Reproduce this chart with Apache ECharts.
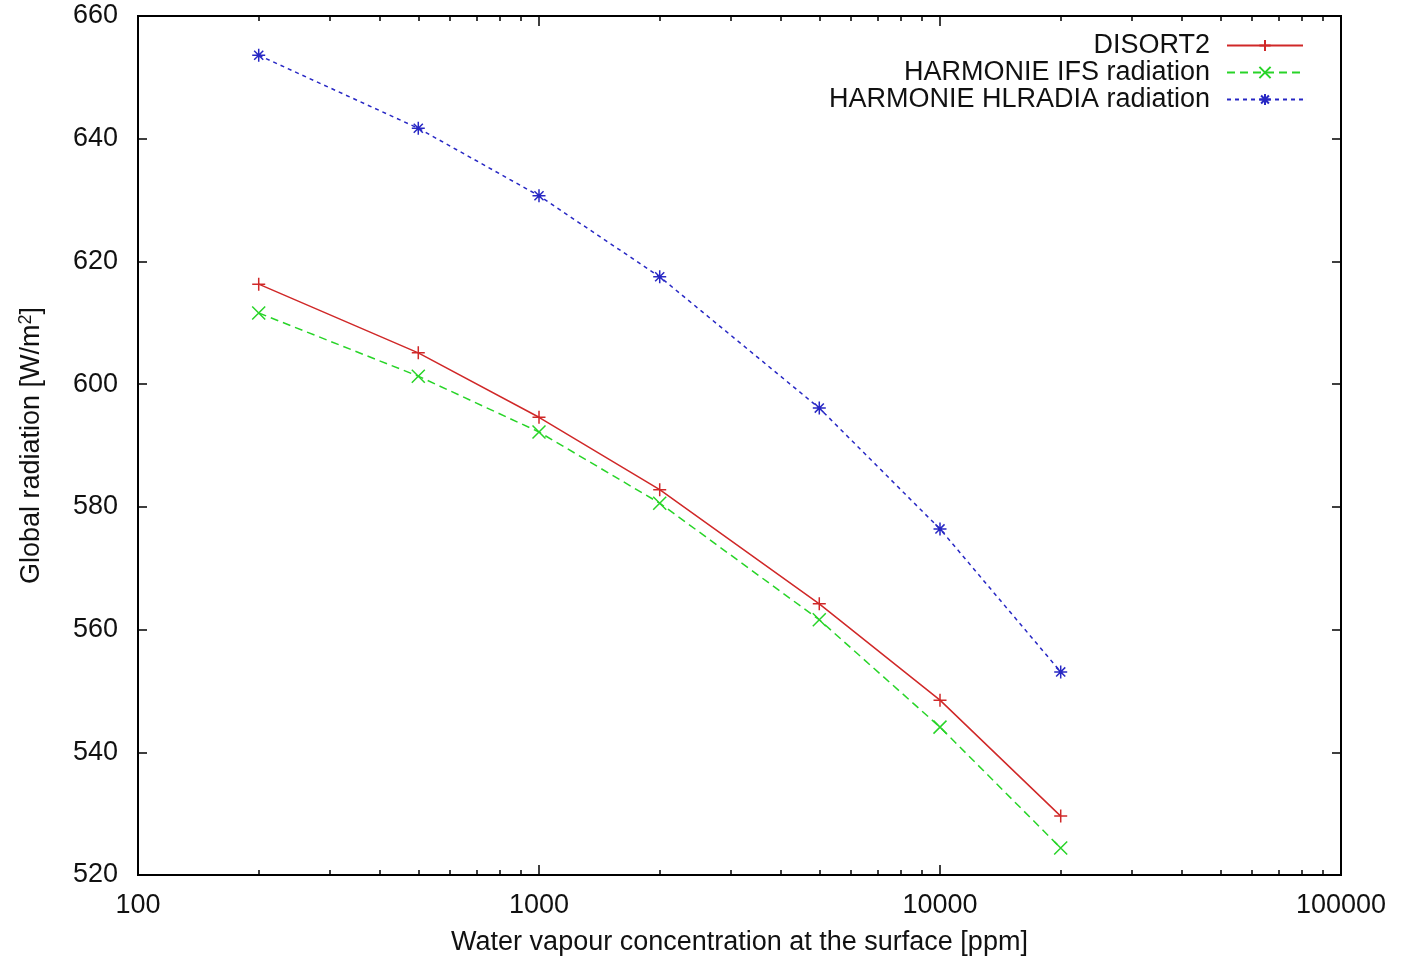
<!DOCTYPE html>
<html>
<head>
<meta charset="utf-8">
<title>Global radiation vs water vapour</title>
<script src="https://cdn.jsdelivr.net/npm/echarts@6/dist/echarts.min.js"></script>
<style>
  html, body { margin: 0; padding: 0; background: #fff; }
  #chart { width: 1407px; height: 961px; }
</style>
</head>
<body>
<div id="chart"></div>
<script>
// Water vapour concentration [ppm]
const ppm = [200, 500, 1000, 2000, 5000, 10000, 20000];

// Global radiation [W/m2]
const disort2 = [616.3, 605.1, 594.6, 582.8, 564.2, 548.5, 529.6];
const ifsRad = [611.6, 601.3, 592.2, 580.6, 561.6, 544.1, 524.4];
const hlradiaRad = [653.6, 641.7, 630.7, 617.5, 596.1, 576.4, 553.1];

const seriesNames = ['DISORT2', 'HARMONIE IFS radiation', 'HARMONIE HLRADIA radiation'];

// gnuplot-style minor ticks on the log axis
const minorTicks = [];
[100, 1000, 10000].forEach(d => {
  for (let k = 2; k <= 9; k++) minorTicks.push(d * k);
});

const font = '"Liberation Sans", Arial, sans-serif';
const fs = 27;
const plusPath = 'path://M0,5L10,5M5,0L5,10';
const crossPath = 'path://M0,0L10,10M10,0L0,10';
const starPath = 'path://M0,5L10,5M5,0L5,10M1.5,1.5L8.5,8.5M8.5,1.5L1.5,8.5';

function pairs(ys) {
  return ppm.map((x, i) => [x, ys[i]]);
}

function makeSeries(name, ys, color, dash, symbol, size) {
  return {
    name: name,
    type: 'line',
    xAxisIndex: 0,
    yAxisIndex: 0,
    data: pairs(ys),
    symbol: symbol,
    symbolSize: size,
    showAllSymbol: true,
    lineStyle: { color: color, width: 1.5, type: dash },
    itemStyle: { color: 'none', borderColor: color, borderWidth: 1.5 },
    emphasis: { disabled: true }
  };
}

function logAxis(position, major, show) {
  return {
    type: 'log',
    logBase: 10,
    min: 100,
    max: 100000,
    position: position,
    axisLine: { show: false },
    splitLine: { show: false },
    axisTick: major
      ? { show: true, inside: true, length: 10, lineStyle: { color: '#000', width: 1.5 } }
      : { show: true, inside: true, length: 5, customValues: minorTicks, lineStyle: { color: '#000', width: 1.5 } },
    axisLabel: {
      show: show,
      margin: 17,
      color: '#111',
      fontFamily: font,
      fontSize: fs,
      formatter: v => String(Math.round(v))
    }
  };
}

const chart = echarts.init(document.getElementById('chart'));

const option = {
  animation: false,
  backgroundColor: '#fff',
  grid: {
    left: 138,
    right: 66,
    top: 16,
    bottom: 86,
    outerBoundsMode: 'none',
    show: true,
    borderColor: '#000',
    borderWidth: 2,
    backgroundColor: 'transparent'
  },
  legend: {
    data: seriesNames,
    orient: 'vertical',
    align: 'right',
    right: 98,
    top: 27,
    itemWidth: 76,
    itemHeight: 14,
    itemGap: 0,
    textStyle: { fontFamily: font, fontSize: fs, color: '#111', padding: [0, 12, 0, 0] }
  },
  xAxis: [
    Object.assign(logAxis('bottom', true, true), {
      name: 'Water vapour concentration at the surface [ppm]',
      nameLocation: 'middle',
      nameGap: 54,
      nameTextStyle: { fontFamily: font, fontSize: fs, color: '#111' }
    }),
    logAxis('bottom', false, false),
    logAxis('top', true, false),
    logAxis('top', false, false)
  ],
  yAxis: [
    {
      type: 'value',
      min: 520,
      max: 660,
      interval: 20,
      position: 'left',
      name: 'Global radiation [W/m{sup|2}]',
      nameLocation: 'middle',
      nameGap: 91,
      nameTextStyle: {
        fontFamily: font,
        fontSize: fs,
        color: '#111',
        rich: {
          sup: { fontFamily: font, fontSize: 18, color: '#111', verticalAlign: 'top', padding: [0, 0, 12, 0] }
        }
      },
      axisLine: { show: false },
      splitLine: { show: false },
      axisTick: { show: true, inside: true, length: 9, lineStyle: { color: '#000', width: 1.5 } },
      axisLabel: { margin: 20, color: '#111', fontFamily: font, fontSize: fs }
    },
    {
      type: 'value',
      min: 520,
      max: 660,
      interval: 20,
      position: 'right',
      axisLine: { show: false },
      splitLine: { show: false },
      axisTick: { show: true, inside: true, length: 9, lineStyle: { color: '#000', width: 1.5 } },
      axisLabel: { show: false }
    }
  ],
  series: [
    makeSeries(seriesNames[0], disort2, '#d02828', 'solid', plusPath, 13),
    makeSeries(seriesNames[1], ifsRad, '#28d428', [8, 5], crossPath, 13),
    makeSeries(seriesNames[2], hlradiaRad, '#2828c4', [4, 4], starPath, 13)
  ]
};

chart.setOption(option);
</script>
</body>
</html>
